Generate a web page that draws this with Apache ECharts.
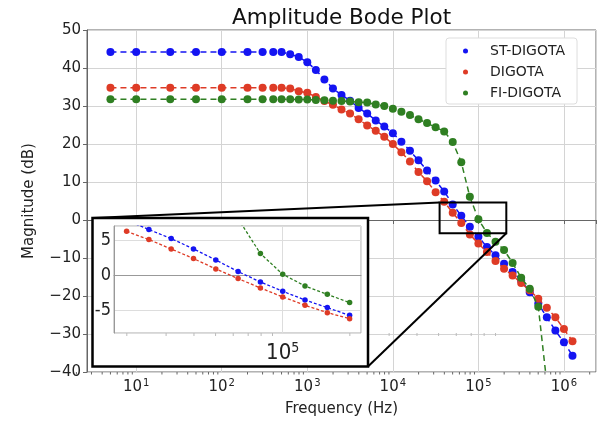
<!DOCTYPE html>
<html>
<head>
<meta charset="utf-8">
<script src="https://cdn.jsdelivr.net/npm/echarts@6/dist/echarts.min.js"></script>
<style>
  html, body { margin: 0; padding: 0; background: #fff; }
  #chart { width: 602px; height: 426px; }
</style>
</head>
<body>
<div id="chart"></div>
<script>
// main plot data (Hz / dB)
const freq = [5, 10, 25, 50, 100, 200, 300, 400, 500,
  631, 794, 1000, 1259, 1585, 1995, 2512, 3162, 3981, 5012, 6310, 7943,
  10000, 12589, 15849, 19953, 25119, 31623, 39811, 50119, 63096, 79433,
  100000, 125893, 158489, 199526, 251189, 316228, 398107, 501187, 630957, 794328,
  1000000, 1258925];
const stDigota = [44.2, 44.2, 44.2, 44.2, 44.2, 44.2, 44.2, 44.2, 44.2,
  43.6, 42.9, 41.5, 39.5, 37.0, 34.6, 32.9, 31.4, 29.5, 28.0, 26.2, 24.6,
  22.8, 20.6, 18.2, 15.7, 13.0, 10.4, 7.5, 4.1, 1.1, -1.8,
  -4.4, -7.1, -9.3, -11.5, -13.7, -15.9, -19.0, -22.0, -25.6, -29.1,
  -32.2, -35.7];
const digota = [34.8, 34.8, 34.8, 34.8, 34.8, 34.8, 34.8, 34.8, 34.8,
  34.6, 33.9, 33.5, 32.4, 31.3, 30.3, 29.1, 28.0, 26.5, 24.9, 23.5, 21.9,
  20.0, 17.8, 15.4, 12.6, 10.2, 7.3, 4.8, 1.9, -0.8, -3.8,
  -6.2, -8.4, -10.8, -12.8, -14.6, -16.6, -18.5, -20.7, -23.1, -25.6,
  -28.7, -31.9];
const fiDigota = [31.8, 31.8, 31.8, 31.8, 31.8, 31.8, 31.8, 31.8, 31.8,
  31.8, 31.7, 31.7, 31.6, 31.5, 31.4, 31.3, 31.2, 31.0, 30.9, 30.4, 30.0,
  29.3, 28.5, 27.6, 26.5, 25.5, 24.4, 23.3, 20.5, 15.2, 6.1,
  0.2, -3.4, -5.7, -7.9, -11.3, -15.2, -18.1, -22.8, -43.0];

// inset (zoomed) data
const insetFreq = [19953, 25119, 31623, 39811, 50119, 63096, 79433, 100000, 125893, 158489, 199526];
const insetSt = [7.8, 6.46, 5.19, 3.73, 2.17, 0.52, -0.94, -2.26, -3.49, -4.57, -5.66];
const insetDi = [6.22, 5.05, 3.72, 2.36, 0.9, -0.47, -1.79, -3.06, -4.24, -5.28, -6.13];
const insetFi = [null, null, null, null, null, 8.0, 3.07, 0.14, -1.51, -2.69, -3.86];

// zoom box on main plot
const zoomBoxX = [35200, 212000];
const zoomBoxY = [-3.5, 4.6];

const seriesNames = ['ST-DIGOTA', 'DIGOTA', 'FI-DIGOTA'];
const colors = ['#1414f2', '#de3b26', '#2f7f22'];
const font = 'DejaVu Sans, sans-serif';
const condensed = 'DejaVu Sans Condensed, DejaVu Sans, sans-serif';

function pairs(xs, ys) {
  return xs.map((x, i) => [x, ys[i]]).filter(p => p[1] != null);
}

// minor tick positions for the log axes
const minorMain = [];
for (let n = 0; n <= 6; n++) {
  for (let k = 2; k <= 9; k++) minorMain.push([k * Math.pow(10, n), -40]);
}
const minorInset = [];
for (let n = 4; n <= 5; n++) {
  for (let k = 2; k <= 9; k++) minorInset.push([k * Math.pow(10, n), -8.16]);
}

function isDecade(v) {
  const e = Math.log10(v);
  return Math.abs(e - Math.round(e)) < 1e-6;
}

function tickRender(len, color) {
  return function (params, api) {
    const p = api.coord([api.value(0), api.value(1)]);
    return {
      type: 'line',
      shape: { x1: p[0], y1: p[1], x2: p[0], y2: p[1] + len },
      style: { stroke: color, lineWidth: 1 }
    };
  };
}

const chart = echarts.init(document.getElementById('chart'));

const mainLines = [stDigota, digota, fiDigota].map((vals, i) => ({
  name: seriesNames[i],
  type: 'line',
  xAxisIndex: 0,
  yAxisIndex: 0,
  data: pairs(freq, vals),
  symbol: 'circle',
  symbolSize: 8,
  itemStyle: { color: colors[i] },
  lineStyle: { color: colors[i], width: 1.5, type: [6, 4] },
  z: 2 + i
}));

const insetLines = [insetSt, insetDi, insetFi].map((vals, i) => ({
  type: 'line',
  xAxisIndex: 1,
  yAxisIndex: 1,
  data: pairs(insetFreq, vals),
  symbol: 'circle',
  symbolSize: 5.5,
  itemStyle: { color: colors[i] },
  lineStyle: { color: colors[i], width: 1.3, type: [3, 2] },
  zlevel: 1,
  z: 5
}));

const option = {
  animation: false,
  backgroundColor: '#fff',
  title: {
    text: 'Amplitude Bode Plot',
    left: 227,
    top: 2,
    textStyle: { fontFamily: font, fontSize: 21.5, fontWeight: 'normal', color: '#111' }
  },
  legend: {
    data: seriesNames,
    orient: 'vertical',
    left: 446,
    top: 38,
    icon: 'circle',
    itemWidth: 7,
    itemHeight: 5,
    itemGap: 5,
    padding: [5, 12, 3, 17],
    backgroundColor: '#fff',
    borderColor: '#dddddd',
    borderWidth: 1,
    borderRadius: 3,
    textStyle: { fontFamily: font, fontSize: 14, color: '#222', lineHeight: 16, padding: [0, 0, 0, 16] }
  },
  grid: [
    { left: 87, top: 30, right: 6, bottom: 54, show: true, borderColor: '#666', borderWidth: 1 },
    { left: 114, top: 226, width: 247, height: 107, show: true, borderColor: '#aaa', borderWidth: 1,
      backgroundColor: '#fff', zlevel: 1, z: 1 }
  ],
  xAxis: [
    {
      type: 'log',
      gridIndex: 0,
      min: 2.66,
      max: 2370000,
      splitNumber: 6,
      name: 'Frequency (Hz)',
      nameLocation: 'middle',
      nameGap: 30,
      nameTextStyle: { fontFamily: font, fontSize: 15, color: '#222' },
      axisLine: { show: true, lineStyle: { color: '#666' } },
      axisTick: { show: true, length: 4, lineStyle: { color: '#666' } },
      splitLine: { show: true, lineStyle: { color: '#d4d4d4' } },
      axisLabel: {
        margin: 6,
        formatter: v => isDecade(v) ? '{b|10}{s|' + Math.round(Math.log10(v)) + '}' : '',
        rich: {
          b: { fontFamily: font, fontSize: 15, color: '#222' },
          s: { fontFamily: font, fontSize: 10, color: '#222', padding: [0, 0, 8, 1] }
        }
      }
    },
    {
      type: 'log',
      gridIndex: 1,
      min: 17520,
      max: 224400,
      splitNumber: 1,
      zlevel: 1,
      z: 2,
      axisLine: { show: true, lineStyle: { color: '#999' } },
      axisTick: { show: false },
      splitLine: { show: true, lineStyle: { color: '#dddddd' } },
      axisLabel: {
        margin: 8,
        formatter: v => isDecade(v) ? '{b|10}{s|' + Math.round(Math.log10(v)) + '}' : '',
        rich: {
          b: { fontFamily: condensed, fontSize: 22, color: '#222' },
          s: { fontFamily: condensed, fontSize: 14, color: '#222', padding: [0, 0, 10, 0] }
        }
      }
    }
  ],
  yAxis: [
    {
      type: 'value',
      gridIndex: 0,
      min: -40,
      max: 50,
      interval: 10,
      name: 'Magnitude (dB)',
      nameLocation: 'middle',
      nameGap: 50,
      nameTextStyle: { fontFamily: font, fontSize: 15, color: '#222' },
      axisLine: { show: true, lineStyle: { color: '#666' } },
      axisTick: { show: true, length: 4, lineStyle: { color: '#666' } },
      splitLine: { show: true, lineStyle: { color: '#d4d4d4' } },
      axisLabel: {
        margin: 6,
        fontFamily: font,
        fontSize: 15,
        color: '#222',
        formatter: v => v < 0 ? '\u2212' + Math.abs(v) : String(v)
      }
    },
    {
      type: 'value',
      gridIndex: 1,
      min: -8.16,
      max: 6.97,
      splitNumber: 3,
      zlevel: 1,
      z: 2,
      axisLine: { show: true, lineStyle: { color: '#999' } },
      axisTick: { show: false },
      splitLine: { show: true, lineStyle: { color: '#dddddd' } },
      axisLabel: {
        margin: 3,
        fontFamily: condensed,
        fontSize: 18,
        color: '#222',
        formatter: v => (Math.abs(v % 5) < 1e-9) ? String(v) : ''
      }
    }
  ],
  series: [
    {
      type: 'custom',
      xAxisIndex: 0,
      yAxisIndex: 0,
      silent: true,
      data: minorMain,
      renderItem: tickRender(2.5, '#666'),
      z: 1
    },
    ...mainLines,
    {
      type: 'custom',
      xAxisIndex: 1,
      yAxisIndex: 1,
      silent: true,
      data: minorInset,
      renderItem: tickRender(3, '#bbb'),
      zlevel: 1,
      z: 4
    },
    ...insetLines
  ]
};

chart.setOption(option);

// inset frame, zoom box and connectors
const frame = { x: 92.5, y: 218, width: 275.5, height: 148.5 };
const tl = chart.convertToPixel({ gridIndex: 0 }, [zoomBoxX[0], zoomBoxY[1]]);
const br = chart.convertToPixel({ gridIndex: 0 }, [zoomBoxX[1], zoomBoxY[0]]);

chart.setOption({
  graphic: [
    {
      type: 'rect', zlevel: 1, z: 0, silent: true,
      shape: frame,
      style: { fill: '#fff', stroke: '#000', lineWidth: 2.5 }
    },
    {
      type: 'rect', zlevel: 1, z: 10, silent: true,
      shape: { x: tl[0], y: tl[1], width: br[0] - tl[0], height: br[1] - tl[1] },
      style: { fill: 'none', stroke: '#000', lineWidth: 2 }
    },
    {
      type: 'line', zlevel: 1, z: 10, silent: true,
      shape: { x1: frame.x, y1: frame.y, x2: tl[0], y2: tl[1] },
      style: { stroke: '#000', lineWidth: 2 }
    },
    {
      type: 'line', zlevel: 1, z: 10, silent: true,
      shape: { x1: frame.x + frame.width, y1: frame.y + frame.height, x2: br[0], y2: br[1] },
      style: { stroke: '#000', lineWidth: 2 }
    }
  ]
});

window.addEventListener('resize', function () {
  chart.resize();
});
</script>
</body>
</html>
